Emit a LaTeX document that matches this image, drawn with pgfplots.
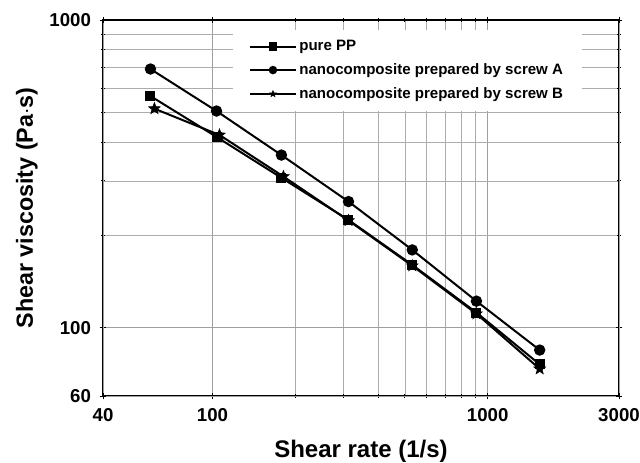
\documentclass[border=0pt]{standalone}
\usepackage{fontspec}
\setmainfont{Liberation Sans}
\usepackage{pgfplots}
\pgfplotsset{compat=1.18}
\pgfdeclareplotmark{fstar}{%
  \pgfpathmoveto{\pgfpointpolar{90}{\pgfplotmarksize}}%
  \pgfpathlineto{\pgfpointpolar{126}{0.42\pgfplotmarksize}}%
  \pgfpathlineto{\pgfpointpolar{162}{\pgfplotmarksize}}%
  \pgfpathlineto{\pgfpointpolar{198}{0.42\pgfplotmarksize}}%
  \pgfpathlineto{\pgfpointpolar{234}{\pgfplotmarksize}}%
  \pgfpathlineto{\pgfpointpolar{270}{0.42\pgfplotmarksize}}%
  \pgfpathlineto{\pgfpointpolar{306}{\pgfplotmarksize}}%
  \pgfpathlineto{\pgfpointpolar{342}{0.42\pgfplotmarksize}}%
  \pgfpathlineto{\pgfpointpolar{18}{\pgfplotmarksize}}%
  \pgfpathlineto{\pgfpointpolar{54}{0.42\pgfplotmarksize}}%
  \pgfpathclose
  \pgfusepathqfillstroke}
\begin{document}
\begin{tikzpicture}
\begin{loglogaxis}[
  name=ax,
  scale only axis,
  width=387pt, height=282pt,
  xmin=40, xmax=3000, ymin=60, ymax=1000,
  xtick={100,1000}, xticklabels={100,1000},
  extra x ticks={40,3000}, extra x tick labels={40,3000},
  ytick={100,1000}, yticklabels={100,1000},
  extra y ticks={60}, extra y tick labels={60},
  tick label style={font=\fontsize{14}{16}\selectfont\bfseries},
  xticklabel style={yshift=-3pt},
  yticklabel style={xshift=-3pt},
  xlabel={\fontsize{18}{20}\selectfont\bfseries Shear rate (1/s)},
  xlabel style={yshift=-2.5pt},
  ylabel={\fontsize{17.5}{20}\selectfont\bfseries Shear viscosity (Pa$\cdot$s)},
  ylabel style={yshift=-3pt},
  grid=both,
  major grid style={gray!75, line width=0.6pt},
  minor grid style={gray!65, line width=0.5pt},
  axis line style={black, line width=1pt},
  tick align=center,
  major tick length=5pt, minor tick length=3pt,
  tick style={black, line width=0.7pt},
  legend cell align=left,
  legend style={at={(0.252,0.975)}, anchor=north west, draw=none, fill=white,
    font=\fontsize{11.3}{13}\selectfont\bfseries, row sep=4.2pt, inner xsep=12pt, inner ysep=6pt},
  legend image code/.code={
    \draw[mark repeat=2, mark phase=2, #1, mark size=2.4pt, line width=1.5pt]
      plot coordinates {(0pt,0pt) (17pt,0pt) (34pt,0pt)};},
  every axis plot/.append style={black, line width=1.5pt},
]
\addplot[mark=square*, mark size=3pt] coordinates {
 (59.5,566) (103.4,417) (178,307) (312,224) (532,160) (910,112) (1545,76)};
\addlegendentry{pure PP}
\addplot[mark=*, mark size=3.5pt] coordinates {
 (59.5,693) (103.4,506) (178,364) (312,257) (532,179) (910,122) (1545,84.6)};
\addlegendentry{nanocomposite prepared by screw A}
\addplot[mark=fstar, mark size=4.5pt, mark options={line width=0.5pt}] coordinates {
 (61.5,515) (106,423) (181,310) (312,223) (532,159) (910,111) (1545,73.5)};
\addlegendentry{nanocomposite prepared by screw B}
\end{loglogaxis}
\pgfresetboundingbox
\path[use as bounding box] ([xshift=-77.25pt,yshift=-50.25pt]ax.south west) rectangle ([xshift=15.75pt,yshift=15pt]ax.north east);
\end{tikzpicture}
\end{document}
